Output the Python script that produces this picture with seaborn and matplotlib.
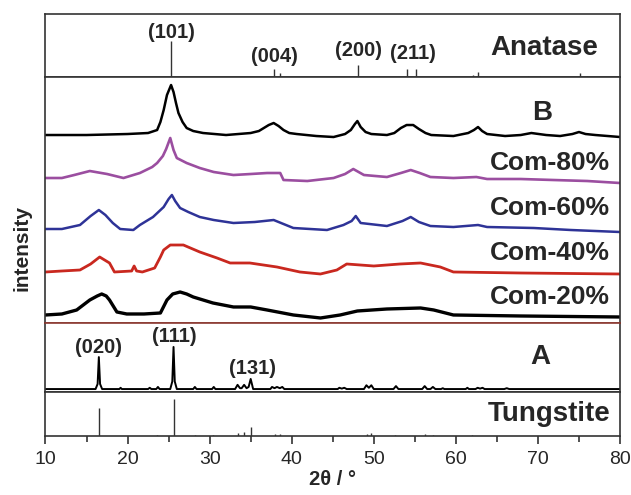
import numpy as np
import seaborn as sns
import matplotlib as mpl
mpl.use("Agg")
import matplotlib.pyplot as plt
from matplotlib.ticker import MultipleLocator

sns.set_style("ticks")
plt.rcParams['font.family'] = ['Liberation Sans', 'DejaVu Sans']

# --- reference sticks (relative intensity) ---
anatase_x = [25.3, 37.8, 38.6, 48.1, 54.0, 55.1, 62.1, 62.7, 68.8, 70.3, 75.1, 76.0]
anatase_i = [100, 22, 11, 33, 22, 22, 5, 14, 3, 3, 11, 3]

tungstite_x = [16.5, 23.6, 25.6, 28.2, 30.4, 33.4, 34.2, 35.0, 38.0, 38.6, 49.2, 49.7, 52.6, 56.2, 57.2, 62.0]
tungstite_i = [76, 3, 100, 3, 4, 8, 11, 24, 5, 5, 5, 7, 4, 5, 4, 2]

# --- measured patterns (intensity above each curve's own floor) ---
b_x = [10, 15, 20, 22.5, 23.6, 24.0, 24.4, 24.8, 25.3, 25.6, 25.9, 26.2, 26.7, 27.2, 28.0, 29.2,
       32, 35, 36.0, 36.6, 37.2, 37.8, 38.4, 39.0, 39.7, 40.6, 43, 45.1, 46.5, 47.2, 47.7, 48.0,
       48.4, 49.0, 49.7, 51.6, 52.5, 53.3, 54.0, 54.8, 55.5, 56.3, 57.0, 59.7, 61.5, 62.2, 62.7,
       63.2, 63.8, 66, 67.9, 69.2, 71, 72.7, 74.2, 75.0, 75.8, 77, 80]
b_i = [2, 2, 3, 4, 7, 15, 27, 42, 52, 45, 34, 24, 15, 9, 6, 4,
       2, 4, 6, 9, 12, 14, 11, 7, 4, 3, 1, 0, 3, 7, 13, 16,
       10, 5, 3, 2, 4, 9, 12, 12, 8, 4, 2, 1, 4, 7, 10,
       6, 3, 1, 2, 4, 2, 1, 3, 5, 3, 2, 0]

c80_x = [10, 12, 13.5, 15.4, 17.5, 19.5, 21.5, 23.0, 23.6, 24.3, 24.7, 25.2, 25.6, 26.0, 27.2, 28.8,
         30.5, 32.9, 35, 37.0, 38.6, 39.0, 41.9, 45.1, 46.5, 47.5, 48.8, 51.6, 53.3, 54.5, 55.6,
         56.9, 59.7, 62.5, 63.8, 67.9, 71.9, 76, 80]
c80_i = [5, 5, 8, 12, 9, 5, 10, 16, 20, 27, 34, 45, 33, 25, 20, 15,
         11, 8, 9, 10, 10, 3, 2, 5, 9, 14, 8, 6, 10, 13, 10,
         6, 5, 6, 4, 4, 3, 2, 0]

c60_x = [10, 12, 14.2, 15.5, 16.5, 17.3, 18.2, 19.1, 20.7, 21.5, 23.1, 24.4, 25.0, 25.4, 25.8, 26.4,
         27.4, 28.8, 30.5, 32.9, 35.5, 37.8, 40.2, 44.3, 46.3, 47.3, 47.8, 48.4, 51.6, 53.5, 54.5,
         55.5, 56.9, 59.7, 62.7, 63.8, 69.5, 74, 80]
c60_i = [3, 3, 7, 16, 22, 17, 9, 3, 2, 7, 15, 25, 33, 37, 31, 24,
         20, 15, 12, 9, 10, 12, 4, 2, 7, 11, 16, 9, 6, 11, 15,
         10, 6, 5, 7, 5, 4, 2, 0]

c40_x = [10, 12, 14.2, 15.5, 16.6, 17.8, 18.4, 20.5, 20.8, 21.1, 21.8, 23.3, 24.0, 24.4, 25.2, 26.8,
         28.8, 30.9, 32.5, 34.9, 38.2, 41.0, 43.5, 45.5, 46.7, 50.0, 53.2, 55.7, 58.1, 59.7, 67.9, 80]
c40_i = [2, 3, 4, 10, 17, 11, 2, 3, 8, 3, 2, 6, 17, 24, 29, 29,
         22, 16, 11, 11, 7, 2, 0, 4, 10, 8, 10, 11, 7, 2, 1, 0]

c20_x = [10, 12, 13.8, 15.4, 16.3, 16.85, 17.4, 17.8, 18.7, 19.9, 22, 24.0, 24.8, 25.5, 26.4, 27.2,
         28.0, 30.4, 32.9, 35, 37.0, 40.2, 43.5, 45.9, 48.0, 51.6, 55.7, 57.3, 59.7, 67.9, 80]
c20_i = [3, 4, 8, 18, 22, 24, 22, 18, 6, 4, 4, 5, 18, 24, 26, 24,
         21, 15, 11, 11, 8, 3, 0, 3, 7, 9, 10, 8, 3, 2, 1]

a_x = [10, 16.1, 16.35, 16.5, 16.65, 16.9, 19.0, 19.15, 19.3, 22.5, 22.7, 22.9, 23.5, 23.7, 23.9,
       25.2, 25.45, 25.6, 25.75, 26.0, 28.0, 28.2, 28.4, 30.3, 30.5, 30.7, 33.1, 33.4, 33.7, 33.9,
       34.2, 34.5, 34.75, 35.0, 35.3, 37.4, 37.6, 37.9, 38.2, 38.55, 38.85, 39.1, 45.6, 45.8, 46.1,
       46.4, 46.7, 48.8, 49.1, 49.4, 49.7, 50.0, 52.4, 52.7, 53.0, 55.9, 56.2, 56.5, 56.9, 57.2,
       57.5, 58.2, 58.4, 58.6, 61.2, 61.4, 61.6, 62.4, 62.65, 62.95, 63.25, 63.5, 65.9, 66.2, 66.5, 80]
a_i = [0, 0, 12, 76, 12, 0, 0, 3, 0, 0, 3, 0, 0, 5, 0,
       0, 18, 100, 18, 0, 0, 5, 0, 0, 5, 0, 0, 10, 2, 2,
       10, 2, 5, 24, 0, 0, 5, 2, 5, 2, 5, 0, 0, 3, 1,
       3, 0, 0, 9, 3, 9, 0, 0, 7, 0, 0, 7, 0, 0, 5,
       0, 0, 2, 0, 0, 3, 0, 0, 3, 1, 3, 0, 0, 2, 0, 0]

sample_names = ["B", "Com-80%", "Com-60%", "Com-40%", "Com-20%"]
sample_x = [b_x, c80_x, c60_x, c40_x, c20_x]
sample_i = [b_i, c80_i, c60_i, c40_i, c20_i]
offsets = [186, 140, 91, 49, 5]
colors = ["black", "#9b4ea0", "#2e3397", "#c9281f", "black"]
widths = [1.8, 1.9, 1.8, 2.0, 2.4]

edge = "#333333"
fig = plt.figure(figsize=(6.31, 4.95), dpi=100)
L, W = 0.0721, 0.9105
ax_top = fig.add_axes([L, 0.8444, W, 0.1273])
ax_mid = fig.add_axes([L, 0.3475, W, 0.4969])
ax_a = fig.add_axes([L, 0.2081, W, 0.1394])
ax_t = fig.add_axes([L, 0.1192, W, 0.0889])

for ax in (ax_top, ax_mid, ax_a, ax_t):
    ax.set_xlim(10, 80)
    ax.set_yticks([])
    ax.set_ylabel("")
    ax.set_xlabel("")
    for s in ax.spines.values():
        s.set_color(edge)
        s.set_linewidth(1.2)
for ax in (ax_top, ax_mid, ax_a):
    ax.tick_params(axis="x", bottom=False, labelbottom=False)
ax_mid.spines["bottom"].set_color("#8b3a32")
ax_a.spines["top"].set_color("#8b3a32")

# anatase sticks
ax_top.vlines(anatase_x, 0, anatase_i, color=edge, lw=1.0)
ax_top.set_ylim(0, 175)
bold = dict(fontweight="bold")
ax_top.text(77.3, 80, "Anatase", ha="right", va="center", fontsize=20, **bold)
for lab, x, y in [("(101)", 25.3, 125), ("(004)", 37.9, 58), ("(200)", 48.1, 75), ("(211)", 54.8, 64)]:
    ax_top.text(x, y, lab, ha="center", va="center", fontsize=14.5, **bold)

# stacked patterns
for name, xs, ys, off, c, lw in zip(sample_names, sample_x, sample_i, offsets, colors, widths):
    sns.lineplot(x=xs, y=np.array(ys) + off, ax=ax_mid, color=c, lw=lw,
                 estimator=None, sort=False)
ax_mid.set_ylim(0, 246)
ax_mid.text(70.5, 210, "B", ha="center", va="center", fontsize=20, **bold)
for lab, y in [("Com-80%", 160), ("Com-60%", 115), ("Com-40%", 70), ("Com-20%", 26)]:
    ax_mid.text(78.8, y, lab, ha="right", va="center", fontsize=19, **bold)

# sample A
sns.lineplot(x=a_x, y=a_i, ax=ax_a, color="black", lw=1.4, estimator=None, sort=False)
ax_a.set_ylim(-7, 157)
ax_a.text(70.3, 76, "A", ha="center", va="center", fontsize=20, **bold)
for lab, x, y in [("(020)", 16.5, 98), ("(111)", 25.7, 124), ("(131)", 35.2, 50)]:
    ax_a.text(x, y, lab, ha="center", va="center", fontsize=14.5, **bold)

# tungstite sticks
ax_t.vlines(tungstite_x, 0, tungstite_i, color=edge, lw=1.0)
ax_t.set_ylim(0, 119)
ax_t.text(78.8, 60, "Tungstite", ha="right", va="center", fontsize=20, **bold)

ax_t.xaxis.set_major_locator(MultipleLocator(10))
ax_t.xaxis.set_minor_locator(MultipleLocator(5))
ax_t.tick_params(axis="x", which="major", direction="out", length=6, width=1.2,
                 color=edge, labelsize=14, pad=5)
ax_t.tick_params(axis="x", which="minor", direction="out", length=4, width=1.2, color=edge)
ax_t.set_xlabel("2θ / °", fontsize=14.5, fontweight="bold", labelpad=1)

fig.text(22 / 631, 1 - 248 / 495, "intensity", rotation=90, ha="center", va="center",
         fontsize=15, fontweight="bold")

fig.savefig("out.png", dpi=100, facecolor="white")
